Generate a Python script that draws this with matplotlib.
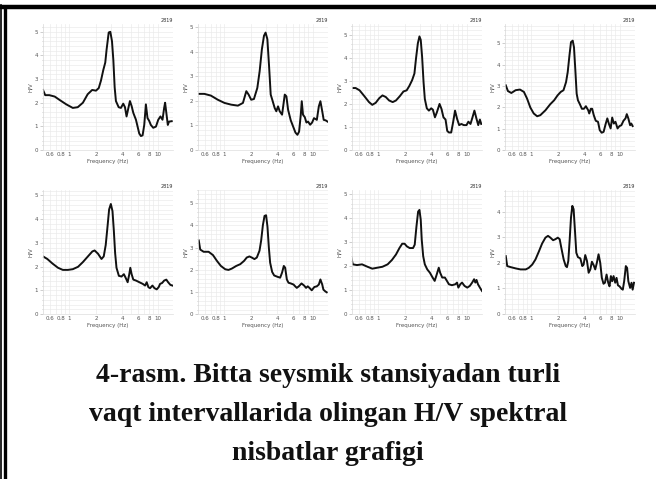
import numpy as np
import matplotlib
matplotlib.use("Agg")
import matplotlib.pyplot as plt
from matplotlib.ticker import FixedLocator, FixedFormatter, MultipleLocator
from matplotlib.lines import Line2D

# ---- Data: H/V curves (frequency in Hz, H/V ratio) ----
f1 = [0.50, 0.53, 0.59, 0.68, 0.77, 0.92, 1.09, 1.24, 1.42, 1.61, 1.81, 2.0, 2.15, 2.28, 2.42, 2.55,
      2.64, 2.79, 2.91, 3.04, 3.15, 3.26, 3.37, 3.62, 3.84, 4.08, 4.27, 4.45, 4.69, 4.86, 5.08, 5.31,
      5.69, 5.94, 6.2, 6.48, 6.77, 7.07, 7.38, 7.7, 8.05, 8.4, 8.94, 9.6, 10.2, 10.8, 11.4, 11.9,
      12.2, 12.6, 13.1, 13.5, 14.5]
hv1 = [2.54, 2.32, 2.32, 2.26, 2.12, 1.93, 1.78, 1.81, 2.0, 2.36, 2.54, 2.51, 2.62, 2.94, 3.38, 3.7,
       4.25, 4.97, 5.0, 4.6, 3.8, 2.65, 2.07, 1.81, 1.78, 1.96, 1.81, 1.42, 1.81, 2.07, 1.86, 1.57,
       1.28, 0.99, 0.70, 0.59, 0.62, 1.06, 1.93, 1.35, 1.23, 1.06, 0.94, 0.99, 1.28, 1.42, 1.28, 1.78,
       2.0, 1.57, 1.06, 1.2, 1.22]

f2 = [0.51, 0.59, 0.70, 0.84, 1.0, 1.19, 1.42, 1.62, 1.77, 1.88, 2.01, 2.16, 2.36, 2.51, 2.66, 2.81,
      2.93, 3.07, 3.21, 3.35, 3.49, 3.72, 3.88, 4.06, 4.24, 4.51, 4.84, 5.05, 5.28, 5.66, 6.02, 6.4,
      6.74, 7.04, 7.36, 7.55, 7.8, 8.17, 8.53, 8.9, 9.4, 9.9, 10.4, 11.2, 11.8, 12.3, 12.9, 13.4,
      14.1, 14.8]
hv2 = [2.29, 2.29, 2.22, 2.05, 1.92, 1.85, 1.81, 1.92, 2.40, 2.26, 2.05, 2.08, 2.53, 3.22, 4.11, 4.66,
       4.79, 4.52, 3.42, 2.26, 2.05, 1.71, 1.58, 1.78, 1.58, 1.44, 2.26, 2.19, 1.64, 1.21, 0.96, 0.71,
       0.62, 0.75, 1.44, 1.99, 1.44, 1.34, 1.12, 1.16, 1.03, 1.12, 1.30, 1.23, 1.78, 1.99, 1.58, 1.23,
       1.21, 1.16]

f3 = [0.51, 0.55, 0.61, 0.69, 0.78, 0.85, 0.93, 1.02, 1.11, 1.21, 1.32, 1.45, 1.58, 1.75, 1.92, 2.09,
      2.24, 2.41, 2.56, 2.67, 2.8, 2.92, 3.02, 3.13, 3.25, 3.36, 3.54, 3.74, 3.97, 4.15, 4.38, 4.61,
      4.94, 5.2, 5.47, 5.78, 6.04, 6.31, 6.7, 7.04, 7.41, 7.82, 8.25, 8.75, 9.32, 10.0, 10.5, 11.1,
      11.7, 12.3, 13.0, 13.6, 14.2, 14.7]
hv3 = [2.69, 2.69, 2.59, 2.34, 2.08, 1.96, 2.05, 2.25, 2.37, 2.30, 2.15, 2.08, 2.15, 2.34, 2.54, 2.59,
       2.78, 3.03, 3.32, 3.98, 4.63, 4.93, 4.78, 4.05, 2.95, 2.22, 1.81, 1.71, 1.81, 1.75, 1.42, 1.64,
       2.0, 1.78, 1.42, 1.32, 0.83, 0.76, 0.76, 1.2, 1.71, 1.35, 1.08, 1.13, 1.08, 1.08, 1.23, 1.13,
       1.42, 1.71, 1.35, 1.08, 1.32, 1.13]

f4 = [0.51, 0.54, 0.59, 0.66, 0.74, 0.82, 0.89, 0.97, 1.06, 1.16, 1.26, 1.44, 1.63, 1.81, 1.98, 2.15,
      2.31, 2.47, 2.58, 2.7, 2.81, 2.94, 3.04, 3.15, 3.26, 3.37, 3.55, 3.74, 3.94, 4.15, 4.41, 4.53,
      4.72, 4.89, 5.1, 5.37, 5.7, 5.96, 6.27, 6.6, 6.95, 7.27, 7.6, 7.93, 8.26, 8.62, 9.0, 9.5,
      10.0, 10.5, 11.1, 11.7, 12.1, 12.6, 13.2, 13.6, 14.1]
hv4 = [3.03, 2.76, 2.67, 2.80, 2.83, 2.72, 2.41, 1.99, 1.71, 1.58, 1.63, 1.86, 2.14, 2.33, 2.56, 2.72,
       2.80, 3.18, 3.65, 4.43, 5.05, 5.12, 4.81, 3.73, 2.64, 2.33, 2.14, 1.93, 1.93, 2.05, 1.86, 1.71,
       1.93, 1.93, 1.63, 1.37, 1.32, 0.93, 0.81, 0.85, 1.21, 1.48, 1.21, 1.01, 1.52, 1.24, 1.32, 1.01,
       1.12, 1.16, 1.37, 1.48, 1.68, 1.48, 1.16, 1.24, 1.12]

f5 = [0.50, 0.56, 0.64, 0.74, 0.84, 0.96, 1.09, 1.25, 1.42, 1.62, 1.82, 1.93, 2.11, 2.31, 2.45, 2.58,
      2.7, 2.82, 2.95, 3.08, 3.19, 3.3, 3.42, 3.64, 3.9, 4.15, 4.38, 4.58, 4.78, 4.91, 5.08, 5.31,
      5.7, 6.22, 6.8, 7.23, 7.54, 7.88, 8.23, 8.76, 9.23, 9.8, 10.3, 10.7, 11.3, 11.9, 12.6, 13.2,
      14.0, 14.8]
hv5 = [2.43, 2.32, 2.13, 1.95, 1.86, 1.86, 1.89, 1.99, 2.19, 2.43, 2.64, 2.68, 2.54, 2.32, 2.43, 2.91,
       3.66, 4.41, 4.64, 4.34, 3.52, 2.57, 1.95, 1.61, 1.58, 1.68, 1.50, 1.34, 1.68, 1.95, 1.68, 1.45,
       1.41, 1.34, 1.27, 1.20, 1.34, 1.13, 1.09, 1.20, 1.09, 1.04, 1.13, 1.27, 1.31, 1.41, 1.45, 1.34,
       1.23, 1.2]

f6 = [0.51, 0.53, 0.58, 0.66, 0.74, 0.82, 0.91, 1.02, 1.11, 1.21, 1.36, 1.51, 1.67, 1.79, 1.92, 2.04,
      2.19, 2.33, 2.5, 2.61, 2.73, 2.85, 2.97, 3.08, 3.19, 3.3, 3.48, 3.67, 4.0, 4.29, 4.51, 4.72,
      4.89, 5.11, 5.34, 5.67, 6.09, 6.36, 6.63, 6.99, 7.5, 8.05, 8.45, 8.83, 9.23, 9.8, 10.5, 11.2,
      11.8, 12.3, 12.9, 13.3, 14.0, 14.5]
hv6 = [3.32, 2.91, 2.81, 2.81, 2.66, 2.40, 2.17, 2.02, 1.99, 2.05, 2.17, 2.25, 2.40, 2.55, 2.60, 2.55,
       2.48, 2.55, 2.86, 3.32, 4.01, 4.43, 4.46, 3.93, 3.01, 2.32, 1.90, 1.74, 1.68, 1.64, 1.87, 2.17,
       2.09, 1.56, 1.41, 1.38, 1.33, 1.25, 1.18, 1.25, 1.38, 1.28, 1.18, 1.25, 1.18, 1.07, 1.22, 1.25,
       1.33, 1.56, 1.33, 1.10, 1.02, 0.98]

f7 = [0.49, 0.51, 0.57, 0.65, 0.75, 0.85, 0.97, 1.11, 1.27, 1.42, 1.58, 1.73, 1.86, 1.98, 2.1, 2.26,
      2.47, 2.58, 2.7, 2.82, 2.92, 3.02, 3.1, 3.22, 3.36, 3.58, 3.84, 4.12, 4.35, 4.59, 4.84, 5.02,
      5.3, 5.68, 5.99, 6.31, 6.83, 7.46, 7.8, 8.08, 8.5, 8.9, 9.5, 10.2, 10.9, 11.6, 12.2, 12.6,
      13.0, 13.5, 14.2, 15.0]
hv7 = [2.38, 2.07, 2.04, 2.07, 1.97, 1.89, 1.93, 1.97, 2.07, 2.25, 2.48, 2.75, 2.93, 2.93, 2.82, 2.75,
       2.75, 2.89, 3.65, 4.27, 4.34, 3.93, 3.10, 2.41, 2.07, 1.86, 1.72, 1.52, 1.38, 1.65, 1.93, 1.72,
       1.52, 1.52, 1.38, 1.24, 1.20, 1.24, 1.31, 1.10, 1.24, 1.31, 1.17, 1.10, 1.17, 1.31, 1.45, 1.31,
       1.42, 1.24, 1.10, 0.96]

f8 = [0.51, 0.53, 0.58, 0.66, 0.75, 0.86, 0.93, 1.02, 1.11, 1.21, 1.32, 1.44, 1.54, 1.64, 1.76, 1.87,
      1.99, 2.09, 2.18, 2.32, 2.45, 2.53, 2.62, 2.71, 2.81, 2.91, 3.01, 3.12, 3.23, 3.37, 3.59, 3.78,
      3.91, 4.08, 4.27, 4.46, 4.66, 4.86, 5.08, 5.3, 5.53, 5.78, 6.04, 6.3, 6.58, 6.83, 7.13, 7.44,
      7.7, 7.98, 8.26, 8.56, 8.94, 9.26, 9.6, 10.0, 10.5, 10.9, 11.3, 11.8, 12.2, 12.6, 13.2, 13.7,
      14.1, 14.6]
hv8 = [2.26, 1.87, 1.83, 1.78, 1.74, 1.74, 1.80, 1.93, 2.13, 2.43, 2.75, 2.98, 3.05, 2.98, 2.88, 2.92,
       2.98, 2.92, 2.59, 2.13, 1.87, 1.83, 2.07, 2.85, 3.76, 4.22, 4.09, 3.24, 2.39, 2.22, 2.17, 1.87,
       1.93, 2.30, 2.07, 1.61, 1.74, 2.04, 1.91, 1.74, 2.0, 2.33, 2.0, 1.41, 1.18, 1.22, 1.54, 1.22,
       1.08, 1.48, 1.28, 1.48, 1.22, 1.41, 1.12, 1.08, 0.99, 0.95, 1.28, 1.87, 1.80, 1.28, 1.02, 1.22,
       0.95, 1.22]

freqs = [f1, f2, f3, f4, f5, f6, f7, f8]
ratios = [hv1, hv2, hv3, hv4, hv5, hv6, hv7, hv8]
y_top = [5.33, 5.14, 5.47, 5.9, 5.23, 5.6, 5.17, 4.84]

x_ticks = [0.6, 0.8, 1, 2, 4, 6, 8, 10]
x_labels = ["0.6", "0.8", "1", "2", "4", "6", "8", "10"]
x_minor = [0.5, 0.7, 0.9, 3, 5, 7, 9, 20]
station = "2819"
caption = ["4-rasm. Bitta seysmik stansiyadan turli",
           "vaqt intervallarida olingan H/V spektral",
           "nisbatlar grafigi"]

# ---- Layout (figure pixels) ----
W, H = 656, 479
col_left = [43, 198, 352, 505]
ax_w = 130
rows = [(24, 150), (190, 314)]  # (top, bottom) in pixels from top

fig = plt.figure(figsize=(W / 100, H / 100), dpi=100)

grid_c = "#ebebeb"
txt_c = "#555555"

for k in range(8):
    r, c = divmod(k, 4)
    top, bot = rows[r]
    ax = fig.add_axes([col_left[c] / W, 1 - bot / H, ax_w / W, (bot - top) / H])
    ax.plot(freqs[k], ratios[k], color="#111111", lw=1.4, solid_joinstyle="round")
    ax.set_xscale("log")
    ax.set_xlim(0.5, 15)
    ax.set_ylim(0, y_top[k])
    ax.xaxis.set_major_locator(FixedLocator(x_ticks))
    ax.xaxis.set_major_formatter(FixedFormatter(x_labels))
    ax.xaxis.set_minor_locator(FixedLocator(x_minor))
    ax.xaxis.set_minor_formatter(FixedFormatter([""] * len(x_minor)))
    ax.yaxis.set_major_locator(MultipleLocator(1))
    ax.yaxis.set_minor_locator(MultipleLocator(0.2))
    ax.grid(True, which="both", color=grid_c, lw=0.5)
    ax.set_axisbelow(True)
    for s in ["top", "right"]:
        ax.spines[s].set_visible(False)
    for s in ["left", "bottom"]:
        ax.spines[s].set_color("#dddddd")
        ax.spines[s].set_linewidth(0.5)
    ax.tick_params(axis="both", which="both", labelsize=4, colors="#bbbbbb",
                   labelcolor=txt_c, pad=1.5, width=0.5)
    ax.tick_params(axis="x", which="both", length=0)
    ax.tick_params(axis="y", which="major", length=2)
    ax.tick_params(axis="y", which="minor", length=1)
    ax.set_xlabel("Frequency (Hz)", fontsize=4, color=txt_c, labelpad=1.5)
    ax.set_ylabel("H/V", fontsize=4, color=txt_c, labelpad=1)
    ax.text(1.0, 1.01, station, transform=ax.transAxes, ha="right", va="bottom",
            fontsize=3.5, color="#333333")

# ---- Caption ----
for i, line in enumerate(caption):
    fig.text(0.5, 1 - (382 + 39 * i) / H, line, ha="center", va="baseline",
             fontsize=20, fontweight="bold", family="Liberation Serif", color="#111111")

# ---- Page frame (top bar and double left rule) ----
fig.add_artist(Line2D([0, 1], [1 - 7 / H, 1 - 7 / H], color="black", lw=3.2))
fig.add_artist(Line2D([1 / W, 1 / W], [0, 1 - 5 / H], color="black", lw=1.2))
fig.add_artist(Line2D([5 / W, 5 / W], [0, 1 - 8 / H], color="black", lw=2.4))

fig.savefig("out.png", dpi=100)
